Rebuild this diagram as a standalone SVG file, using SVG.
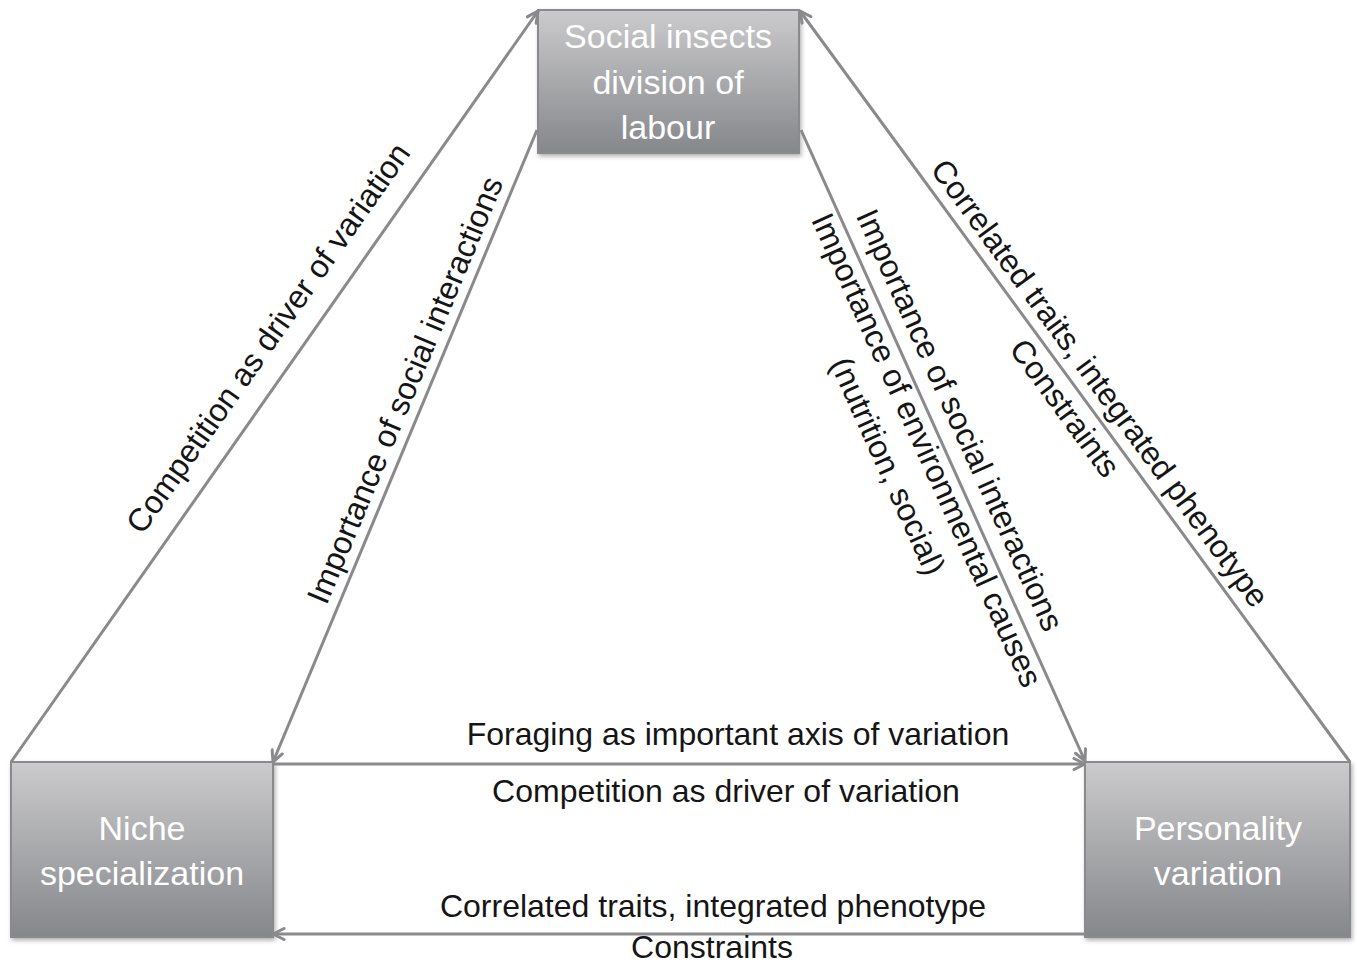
<svg xmlns="http://www.w3.org/2000/svg" width="1357" height="967" viewBox="0 0 1357 967">
  <defs>
    <linearGradient id="boxFill" x1="0" y1="0" x2="0" y2="1">
      <stop offset="0" stop-color="#cbcbcd"/>
      <stop offset="1" stop-color="#86878b"/>
    </linearGradient>
    <filter id="shadow" x="-10%" y="-10%" width="120%" height="125%">
      <feDropShadow dx="1.5" dy="2.5" stdDeviation="2" flood-color="#000" flood-opacity="0.3"/>
    </filter>
    <marker id="arrow" viewBox="0 0 14 14" refX="13" refY="7" markerWidth="14" markerHeight="14" markerUnits="userSpaceOnUse" orient="auto">
      <path d="M2,1.5 L13,7 L2,12.5" fill="none" stroke="#8a8a8c" stroke-width="3" stroke-linecap="round" stroke-linejoin="round"/>
    </marker>
  </defs>
  <style>
    .box { fill: url(#boxFill); stroke: #8a8a8c; stroke-width: 2; filter: url(#shadow); }
    .node-text { font-family: "Liberation Sans", Arial, sans-serif; font-size: 34px; fill: #ffffff; text-anchor: middle; }
    .link { fill: none; stroke: #8a8a8c; stroke-width: 3; marker-end: url(#arrow); }
    .label { font-family: "Liberation Sans", Arial, sans-serif; font-size: 32px; fill: #151515; text-anchor: middle; }
  </style>

  <rect width="1357" height="967" fill="#ffffff"/>

  <!-- nodes -->
  <g id="node-social-insects">
    <rect class="box" x="538" y="10" width="261" height="143"/>
    <text class="node-text" x="668" y="48">Social insects</text>
    <text class="node-text" x="668" y="94">division of</text>
    <text class="node-text" x="668" y="139">labour</text>
  </g>
  <g id="node-niche">
    <rect class="box" x="11" y="762" width="262" height="175"/>
    <text class="node-text" x="142" y="840">Niche</text>
    <text class="node-text" x="142" y="885">specialization</text>
  </g>
  <g id="node-personality">
    <rect class="box" x="1085" y="762" width="265" height="175"/>
    <text class="node-text" x="1218" y="840">Personality</text>
    <text class="node-text" x="1218" y="885">variation</text>
  </g>

  <!-- connectors -->
  <g id="connectors">
    <path class="link" d="M11,762 L538,11"/>
    <path class="link" d="M537,130 L273,762"/>
    <path class="link" d="M801,130 L1085,761"/>
    <path class="link" d="M1350,762 L800,11"/>
    <path class="link" d="M273,764 L1085,764"/>
    <path class="link" d="M1085,934 L273,934"/>
  </g>

  <!-- connector labels -->
  <g id="labels">
    <text class="label" transform="translate(268,338) rotate(-54.9)" x="0" y="11">Competition as driver of variation</text>
    <text class="label" transform="translate(405,390) rotate(-67.3)" x="0" y="11">Importance of social interactions</text>
    <text class="label" transform="translate(960,420) rotate(65.7)" x="0" y="11">Importance of social interactions</text>
    <text class="label" transform="translate(927,450) rotate(65.7)" x="0" y="11">Importance of environmental causes</text>
    <text class="label" transform="translate(888,466) rotate(65.7)" x="0" y="11">(nutrition, social)</text>
    <text class="label" transform="translate(1100,383) rotate(53.7)" x="0" y="11">Correlated traits, integrated phenotype</text>
    <text class="label" transform="translate(1065,408) rotate(53.7)" x="0" y="11">Constraints</text>
    <text class="label" x="738" y="745">Foraging as important axis of variation</text>
    <text class="label" x="726" y="802">Competition as driver of variation</text>
    <text class="label" x="713" y="917">Correlated traits, integrated phenotype</text>
    <text class="label" x="712" y="958">Constraints</text>
  </g>
</svg>
